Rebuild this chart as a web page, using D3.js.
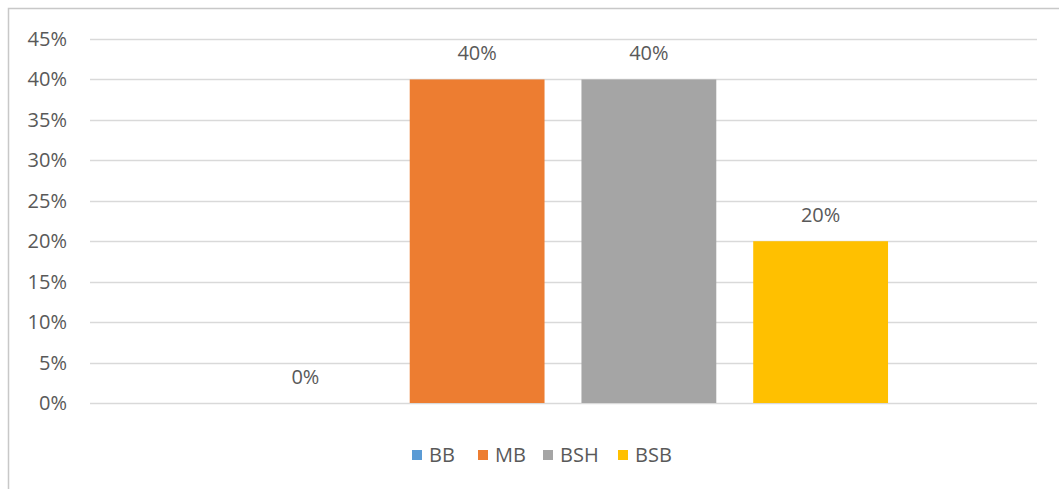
<!DOCTYPE html>
<html lang="en">
<head>
    <meta charset="UTF-8">
    <script src="https://d3js.org/d3.v7.min.js" charset="utf-8"></script>
    <title>Bar chart</title>
    <style>
        body { margin: 0; background: white; }
        svg text { font-family: "Open Sans", sans-serif; fill: #595959; }
    </style>
</head>
<body>
    <div class="chart"></div>
    <script>
        const width = 1059;
        const height = 489;

        // series and values
        const series = ["BB", "MB", "BSH", "BSB"];
        const values = [0, 0.40, 0.40, 0.20];
        const colors = ["#5b9bd5", "#ed7d31", "#a5a5a5", "#ffc000"];
        const yTicks = [0, 0.05, 0.10, 0.15, 0.20, 0.25, 0.30, 0.35, 0.40, 0.45];

        const plot = { left: 90, right: 1037, top: 39, bottom: 403 };

        const svg = d3.select(".chart").append("svg")
            .attr("width", width)
            .attr("height", height);

        // chart frame
        svg.append("rect")
            .attr("x", 8.5).attr("y", 8.5)
            .attr("width", width + 10).attr("height", height + 10)
            .attr("fill", "white")
            .attr("stroke", "#c8c8c8")
            .attr("stroke-width", 1.5);

        const y = d3.scaleLinear()
            .domain([0, 0.45])
            .range([plot.bottom, plot.top]);

        const x = d3.scaleBand()
            .domain(series)
            .range([219.5, 906.5])
            .paddingInner(0.215)
            .paddingOuter(0.1075);

        // gridlines
        svg.append("g").selectAll("line")
            .data(yTicks)
            .enter()
            .append("line")
            .attr("x1", plot.left).attr("x2", plot.right)
            .attr("y1", d => Math.round(y(d)) + 0.5)
            .attr("y2", d => Math.round(y(d)) + 0.5)
            .attr("stroke", "#d9d9d9")
            .attr("stroke-width", 1.5);

        // y axis labels
        svg.append("g").selectAll("text")
            .data(yTicks)
            .enter()
            .append("text")
            .attr("x", 67)
            .attr("y", d => y(d))
            .attr("dy", "0.35em")
            .attr("text-anchor", "end")
            .style("font-size", "20px")
            .text(d => d3.format(".0%")(d));

        // bars
        svg.append("g").selectAll("rect")
            .data(values)
            .enter()
            .append("rect")
            .attr("x", (d, i) => x(series[i]))
            .attr("width", x.bandwidth())
            .attr("y", d => y(d))
            .attr("height", d => y(0) - y(d))
            .attr("fill", (d, i) => colors[i]);

        // data labels
        svg.append("g").selectAll("text")
            .data(values)
            .enter()
            .append("text")
            .attr("x", (d, i) => x(series[i]) + x.bandwidth() / 2)
            .attr("y", d => y(d) - 19)
            .attr("text-anchor", "middle")
            .style("font-size", "20px")
            .text(d => d3.format(".0%")(d));

        // legend
        const legendX = [412, 478, 543, 618];
        const legend = svg.append("g").selectAll("g")
            .data(series)
            .enter()
            .append("g")
            .attr("transform", (d, i) => `translate(${legendX[i]},455)`);

        legend.append("rect")
            .attr("x", 0).attr("y", -5)
            .attr("width", 10).attr("height", 10)
            .attr("fill", (d, i) => colors[i]);

        legend.append("text")
            .attr("x", 17)
            .attr("y", 0)
            .attr("dy", "0.35em")
            .style("font-size", "20px")
            .text(d => d);
    </script>
</body>
</html>
